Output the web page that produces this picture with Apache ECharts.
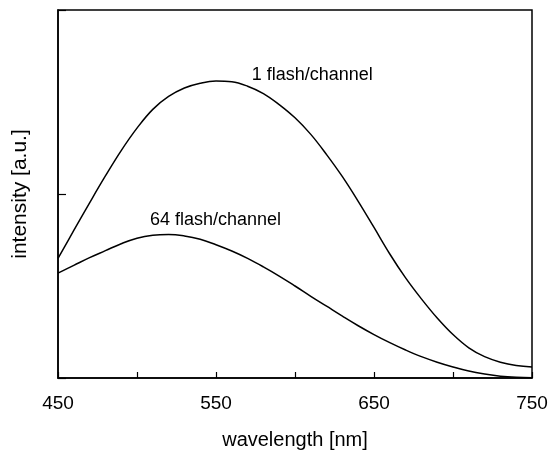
<!DOCTYPE html>
<html>
<head>
<meta charset="utf-8">
<script src="https://cdn.jsdelivr.net/npm/echarts@6/dist/echarts.min.js"></script>
<style>
html,body{margin:0;padding:0;background:#fff;}
#chart{width:549px;height:452px;}
</style>
</head>
<body>
<div id="chart"></div>
<script>
// wavelength grid [nm]
const wavelengths = [450,460,470,480,490,500,510,520,530,540,550,560,570,580,590,600,610,620,630,640,650,660,670,680,690,700,710,720,730,740,750];
// 1 flash/channel (a.u.)
const flash1 = [0.325,0.401,0.476,0.549,0.618,0.679,0.730,0.765,0.788,0.801,0.807,0.805,0.793,0.773,0.743,0.707,0.662,0.607,0.547,0.480,0.409,0.337,0.272,0.215,0.163,0.118,0.082,0.058,0.043,0.034,0.030];
// 64 flash/channel (a.u.)
const flash64 = [0.285,0.306,0.327,0.346,0.365,0.380,0.388,0.390,0.386,0.377,0.362,0.345,0.325,0.302,0.277,0.250,0.222,0.195,0.168,0.142,0.118,0.096,0.076,0.058,0.043,0.030,0.019,0.011,0.005,0.002,0.001];
const xTickLabels = [450,550,650,750];
const seriesNames = ['1 flash/channel','64 flash/channel'];
const labelAnchors = [[572.6,0.823],[508.2,0.429]];

const font = 'Liberation Sans, Arial, Helvetica, sans-serif';
const chart = echarts.init(document.getElementById('chart'), null, {renderer:'canvas'});

function mkSeries(name, vals, anchor){
  return {
    name: name,
    type: 'line',
    data: wavelengths.map((w,i)=>[w, vals[i]]),
    showSymbol: false,
    smooth: 0.4,
    lineStyle: {color:'#000', width:1.5},
    itemStyle: {color:'#000'},
    silent: true,
    animation: false,
    markPoint: {
      symbol: 'circle', symbolSize: 0, silent: true, animation:false,
      data: [{coord: anchor, label: {show:true, formatter: name, position:'inside', align:'left', verticalAlign:'middle', color:'#000', fontSize:18, fontFamily: font}}]
    }
  };
}

chart.setOption({
  animation: false,
  backgroundColor: '#fff',
  grid: {left:58, right:17, top:10, bottom:74, show:true, borderColor:'#000', borderWidth:1.5, backgroundColor:'transparent', outerBoundsMode:'none', containLabel:false},
  xAxis: {
    type:'value', min:450, max:750, interval:50,
    name:'wavelength [nm]', nameLocation:'middle', nameGap:52,
    nameTextStyle:{color:'#000', fontSize:20, fontFamily:font},
    axisLine:{show:true, lineStyle:{color:'#000', width:1.5}},
    axisTick:{show:true, inside:true, length:6, lineStyle:{color:'#000', width:1.2}},
    axisLabel:{color:'#000', fontSize:19, fontFamily:font, margin:16,
      formatter: v => xTickLabels.includes(v) ? String(v) : ''},
    splitLine:{show:false}
  },
  yAxis: {
    type:'value', min:0, max:1, interval:0.5,
    name:'intensity [a.u.]', nameLocation:'middle', nameGap:27,
    nameTextStyle:{color:'#000', fontSize:21, fontFamily:font},
    axisLine:{show:true, lineStyle:{color:'#000', width:1.5}},
    axisTick:{show:true, inside:true, length:8, lineStyle:{color:'#000', width:1.2}},
    axisLabel:{show:false},
    splitLine:{show:false}
  },
  series: [
    mkSeries(seriesNames[0], flash1, labelAnchors[0]),
    mkSeries(seriesNames[1], flash64, labelAnchors[1])
  ]
});
</script>
</body>
</html>
